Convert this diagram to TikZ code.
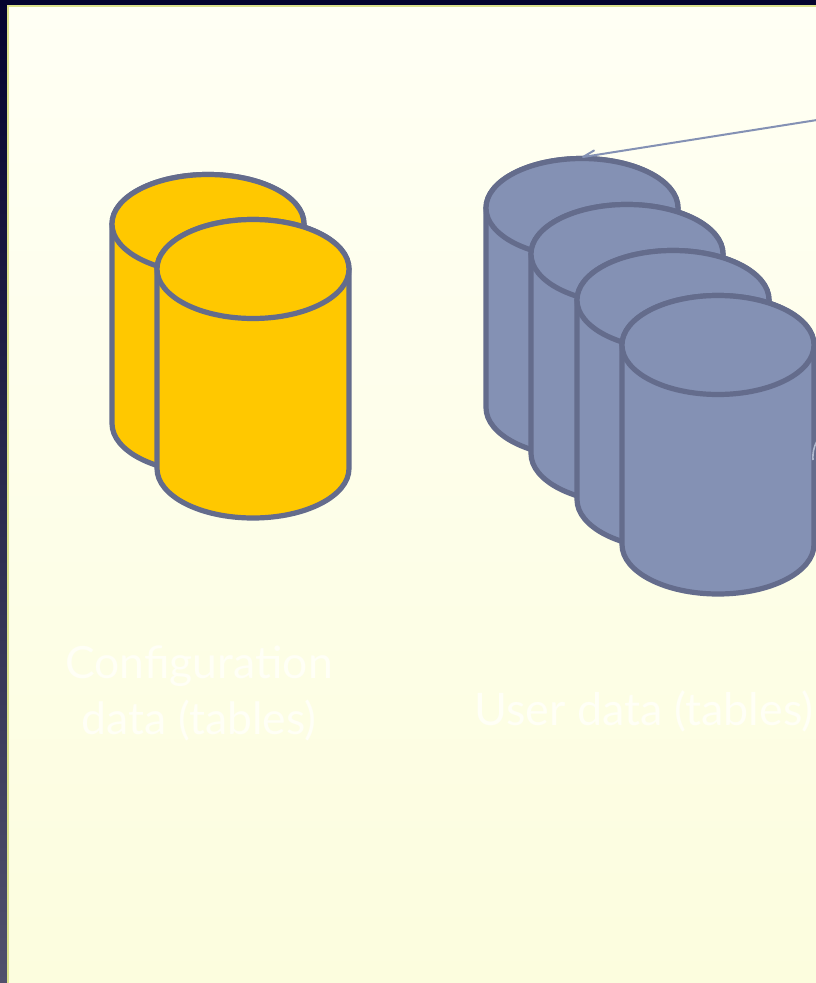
\documentclass[tikz,border=0pt]{standalone}
\usepackage{fontspec}
\setmainfont{Lato}
\definecolor{edgeblue}{HTML}{646C8C}
\definecolor{fillblue}{HTML}{8491B4}
\definecolor{fillgold}{HTML}{FFC800}
\definecolor{arrowblue}{HTML}{8491B4}
\definecolor{navy}{HTML}{04042E}
\definecolor{slate}{HTML}{50506C}
\definecolor{rimgreen}{HTML}{DCE28C}
\definecolor{paneltop}{HTML}{FFFFF4}
\definecolor{panelbot}{HTML}{FCFDDE}
\definecolor{faintwhite}{HTML}{FFFFF6}
\tikzset{
  x=1pt,y=1pt,
  cylshape/.style={draw=edgeblue,line width=5.2pt,line join=round},
  cap label/.style={text=faintwhite,font=\fontsize{44.5}{56}\selectfont,align=center,inner sep=0pt},
  link/.style={draw=arrowblue,line width=2pt}
}
\newcommand{\drumshape}[3]{% left, top-ellipse centre y, colour
  \begin{scope}[shift={(#1,-#2)}]
    \path[cylshape,fill=#3] (0,0) -- (0,-199.5)
      arc[start angle=180,end angle=360,x radius=96,y radius=49.5]
      -- (192,0)
      arc[start angle=0,end angle=180,x radius=96,y radius=49.5] -- cycle;
    \path[cylshape,fill=#3] (96,0) ellipse[x radius=96,y radius=49.5];
  \end{scope}}
\begin{document}
\begin{tikzpicture}
\useasboundingbox (0,0) rectangle (816,-983);
\clip (0,0) rectangle (816,-983);
% backdrop
\shade[top color=navy,bottom color=slate] (0,0) rectangle (816,-983);
\fill[navy] (0,0) rectangle (816,-6);
% panel
\fill[rimgreen] (7,-5) rectangle (816,-983);
\shade[top color=paneltop,bottom color=panelbot] (9,-7) rectangle (816,-983);
% gold drums
\drumshape{112}{224}{fillgold}
\drumshape{157}{269}{fillgold}
% blue drums
\drumshape{486}{208}{fillblue}
\drumshape{531}{254}{fillblue}
\drumshape{577}{300}{fillblue}
\drumshape{622}{345}{fillblue}
% connector
\coordinate (src) at (817,-120);
\coordinate (tgt) at (583,-157);
\coordinate (barb) at (594,-150.5);
\draw[link] (src) -- (tgt);
\draw[link,line cap=round] (tgt) -- (barb);
% sliver at the right edge
\coordinate (slA) at (817,-441);
\coordinate (slB) at (813,-460);
\draw[fillblue!65!white,line width=1.6pt] (slA) to[bend right=15] (slB);
% labels
\node[cap label,anchor=north] (cfg) at (199,-646) {Configuration\\data (tables)};
\node[cap label,font=\fontsize{44.9}{56}\selectfont,anchor=base west] (usr) at (474,-725) {User data (tables)};
\end{tikzpicture}
\end{document}
